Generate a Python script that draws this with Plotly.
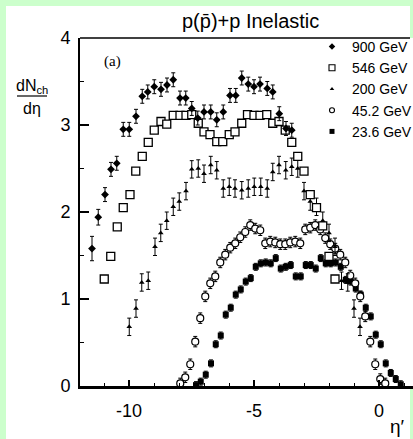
import plotly.graph_objects as go

# ---------------- data ----------------
x_900 = [-11.48, -11.23, -10.96, -10.72, -10.49, -10.23, -9.99, -9.72, -9.47, -9.25,
         -8.99, -8.72, -8.48, -8.23, -7.96, -7.73, -7.49, -7.25, -7.00, -6.73,
         -6.49, -6.23, -5.96, -5.73, -5.49, -5.23, -5.00, -4.76, -4.47, -4.25,
         -3.99, -3.72, -3.49]
y_900 = [1.58, 1.94, 2.20, 2.49, 2.56, 2.95, 2.95, 3.10, 3.33, 3.38,
         3.44, 3.41, 3.46, 3.52, 3.31, 3.31, 3.19, 3.08, 3.15, 3.15,
         3.06, 3.15, 3.34, 3.34, 3.54, 3.47, 3.44, 3.47, 3.42, 3.38,
         3.13, 2.96, 2.94]
e_900 = [0.14, 0.09, 0.08, 0.08, 0.08, 0.08, 0.08, 0.08, 0.08, 0.08,
         0.08, 0.08, 0.08, 0.08, 0.08, 0.08, 0.08, 0.08, 0.08, 0.08,
         0.08, 0.08, 0.08, 0.08, 0.08, 0.08, 0.08, 0.08, 0.08, 0.08,
         0.08, 0.08, 0.08]

x_546 = [-10.99, -10.73, -10.47, -10.23, -9.96, -9.73, -9.47, -9.23, -8.99, -8.72,
         -8.49, -8.23, -7.96, -7.72, -7.49, -7.23, -7.00, -6.76, -6.49, -6.25,
         -5.99, -5.76, -5.49, -5.26, -5.00, -4.76, -4.49, -4.25, -4.00, -3.75,
         -3.49, -3.25, -3.00, -2.75, -2.50, -2.25, -2.00, -1.76]
y_546 = [1.23, 1.49, 1.83, 2.05, 2.20, 2.47, 2.64, 2.80, 2.94, 3.04,
         3.01, 3.11, 3.11, 3.11, 3.12, 3.02, 2.92, 2.89, 2.81, 2.81,
         2.89, 2.92, 3.02, 3.12, 3.11, 3.11, 3.12, 3.02, 3.04, 2.94,
         2.80, 2.64, 2.47, 2.20, 2.05, 1.84, 1.49, 1.23]

x_200 = [-9.99, -9.72, -9.49, -9.23, -8.96, -8.73, -8.49, -8.23, -7.99, -7.72,
         -7.49, -7.23, -7.00, -6.73, -6.49, -6.23, -5.99, -5.76, -5.49, -5.23,
         -4.99, -4.73, -4.47, -4.25, -4.00, -3.73, -3.49, -3.25, -3.00, -2.75,
         -2.50, -2.25, -2.00, -1.76, -1.50, -1.25, -1.00, -0.76]
y_200 = [0.68, 0.89, 1.19, 1.21, 1.60, 1.76, 1.90, 2.06, 2.12, 2.24,
         2.49, 2.50, 2.44, 2.54, 2.48, 2.27, 2.29, 2.27, 2.25, 2.27,
         2.29, 2.29, 2.27, 2.46, 2.54, 2.48, 2.52, 2.50, 2.24, 2.12,
         2.06, 1.90, 1.76, 1.60, 1.21, 1.19, 0.89, 0.68]
e_200 = 0.10

x_452 = [-7.95, -7.75, -7.55, -7.35, -7.15, -6.95, -6.75, -6.55, -6.35, -6.15,
         -5.95, -5.75, -5.55, -5.35, -5.15, -4.95, -4.75, -4.55, -4.35, -4.15,
         -3.95, -3.75, -3.55, -3.35, -3.15, -2.95, -2.75, -2.55, -2.35, -2.15,
         -1.95, -1.75, -1.55, -1.35, -1.15, -0.95, -0.75, -0.55, -0.35, -0.15,
         0.05, 0.25]
y_452 = [0.03, 0.10, 0.25, 0.51, 0.78, 1.03, 1.18, 1.26, 1.42, 1.51,
         1.59, 1.64, 1.71, 1.77, 1.85, 1.81, 1.79, 1.64, 1.66, 1.65,
         1.63, 1.63, 1.65, 1.66, 1.64, 1.80, 1.82, 1.85, 1.80, 1.70,
         1.63, 1.58, 1.51, 1.42, 1.27, 1.18, 1.03, 0.80, 0.51, 0.25,
         0.08, 0.03]
e_452 = 0.06

x_236 = [-7.32, -7.13, -6.93, -6.72, -6.53, -6.33, -6.13, -5.93, -5.73, -5.53,
         -5.33, -5.13, -4.93, -4.73, -4.53, -4.33, -4.13, -3.93, -3.73, -3.53,
         -3.33, -3.13, -2.93, -2.73, -2.53, -2.33, -2.13, -1.93, -1.73, -1.53,
         -1.33, -1.13, -0.93, -0.73, -0.53, -0.33, -0.13, 0.07, 0.27, 0.47,
         0.67, 0.87]
y_236 = [0.01, 0.05, 0.13, 0.26, 0.48, 0.58, 0.82, 0.90, 1.05, 1.11,
         1.20, 1.24, 1.37, 1.41, 1.42, 1.41, 1.47, 1.35, 1.37, 1.39,
         1.26, 1.26, 1.39, 1.39, 1.35, 1.47, 1.41, 1.41, 1.42, 1.37,
         1.22, 1.20, 1.12, 1.05, 0.90, 0.80, 0.59, 0.48, 0.26, 0.15,
         0.08, 0.02]
e_236 = 0.04

labels = ["900 GeV", "546 GeV", "200 GeV", "45.2 GeV", "23.6 GeV"]
x_ticks = [-10, -5, 0]
x_ticktext = ["-10", "-5", "0"]
y_ticks = [0, 1, 2, 3, 4]
y_ticktext = ["0", "1", "2", "3", "4"]

# ---------------- layout geometry ----------------
W, H = 413, 439
L, R, T, B = 80, 0, 38, 53
PW, PH = W - L - R, H - T - B


def pxx(p):
    return (p - L) / PW


def pxy(p):
    return (H - B - p) / PH


FONT = "Liberation Sans"
BLACK = "black"

styles = {
    "900 GeV": dict(symbol="diamond", size=6, color=BLACK, line=dict(width=0)),
    "546 GeV": dict(symbol="square", size=8, color="white", line=dict(width=1.3, color=BLACK)),
    "200 GeV": dict(symbol="triangle-up", size=5, color=BLACK, line=dict(width=0)),
    "45.2 GeV": dict(symbol="circle", size=7, color="white", line=dict(width=1.2, color=BLACK)),
    "23.6 GeV": dict(symbol="square", size=6, color=BLACK, line=dict(width=0)),
}
legend_styles = {
    "900 GeV": dict(symbol="diamond", size=5, color=BLACK, line=dict(width=0)),
    "546 GeV": dict(symbol="square", size=6, color="white", line=dict(width=1.1, color=BLACK)),
    "200 GeV": dict(symbol="triangle-up", size=4, color=BLACK, line=dict(width=0)),
    "45.2 GeV": dict(symbol="circle", size=5, color="white", line=dict(width=1.1, color=BLACK)),
    "23.6 GeV": dict(symbol="square", size=5, color=BLACK, line=dict(width=0)),
}


def err(vals):
    if isinstance(vals, list):
        return dict(type="data", array=vals, visible=True, color=BLACK, thickness=1, width=2)
    return dict(type="constant", value=vals, visible=True, color=BLACK, thickness=1, width=2)


fig = go.Figure()

# data traces (draw order: low energies first)
fig.add_trace(go.Scatter(x=x_236, y=y_236, mode="markers", marker=styles["23.6 GeV"],
                         error_y=err(e_236), showlegend=False))
fig.add_trace(go.Scatter(x=x_452, y=y_452, mode="markers", marker=styles["45.2 GeV"],
                         error_y=err(e_452), showlegend=False))
fig.add_trace(go.Scatter(x=x_200, y=y_200, mode="markers", marker=styles["200 GeV"],
                         error_y=err(e_200), showlegend=False))
fig.add_trace(go.Scatter(x=x_546, y=y_546, mode="markers", marker=styles["546 GeV"],
                         showlegend=False))
fig.add_trace(go.Scatter(x=x_900, y=y_900, mode="markers", marker=styles["900 GeV"],
                         error_y=err(e_900), showlegend=False))

# legend-only entries
for lab in labels:
    fig.add_trace(go.Scatter(x=[None], y=[None], mode="markers", marker=legend_styles[lab],
                             name=lab, showlegend=True))

fig.update_layout(
    width=W, height=H,
    margin=dict(l=L, r=R, t=T, b=B, pad=0, autoexpand=False),
    paper_bgcolor="#ccffcc",
    plot_bgcolor="white",
    font=dict(family=FONT, color=BLACK),
    legend=dict(x=pxx(312), y=pxy(31), xanchor="left", yanchor="top",
                bgcolor="rgba(0,0,0,0)", borderwidth=0,
                font=dict(family=FONT, size=14, color=BLACK),
                itemwidth=30, tracegroupgap=0),
    xaxis=dict(range=[-11.96, 1.36], showgrid=False, zeroline=False,
               showline=True, linewidth=3, linecolor=BLACK,
               ticks="inside", ticklen=6, tickwidth=2, tickcolor=BLACK,
               tickvals=x_ticks, ticktext=x_ticktext,
               tickfont=dict(family=FONT, size=18, color=BLACK),
               ticklabelstandoff=6,
               minor=dict(dtick=1, ticks="inside", ticklen=3, tickwidth=1, tickcolor=BLACK,
                          showgrid=False)),
    yaxis=dict(range=[0, 4], showgrid=False, zeroline=False,
               showline=True, linewidth=2, linecolor=BLACK,
               ticks="inside", ticklen=9, tickwidth=2, tickcolor=BLACK,
               tickvals=y_ticks, ticktext=y_ticktext,
               tickfont=dict(family=FONT, size=18, color=BLACK),
               ticklabelstandoff=4,
               minor=dict(dtick=0.5, ticks="inside", ticklen=4, tickwidth=1, tickcolor=BLACK,
                          showgrid=False)),
)

# white panel on green background, and top frame line
fig.add_shape(type="rect", xref="paper", yref="paper", layer="below",
              x0=pxx(6), x1=pxx(410), y0=pxy(440), y1=pxy(6),
              fillcolor="white", line=dict(width=0))
fig.add_shape(type="line", xref="paper", yref="paper",
              x0=0, x1=pxx(410), y0=1, y1=1, line=dict(color=BLACK, width=1.5))


def label(text, x, y, size, family=FONT):
    fig.add_annotation(text=text, xref="paper", yref="paper", x=pxx(x), y=pxy(y),
                       xanchor="center", yanchor="middle", showarrow=False,
                       font=dict(family=family, size=size, color=BLACK))


# titles / labels
label("p(p\u0304)+p Inelastic", 250, 21, 20)
label("(a)", 112, 61, 15, "Liberation Serif")
label("dN<sub>ch</sub>", 32, 86, 16)
fig.add_shape(type="line", xref="paper", yref="paper", x0=pxx(17), x1=pxx(47),
              y0=pxy(96), y1=pxy(96), line=dict(color=BLACK, width=1.2))
label("d\u03b7", 32, 108, 16)
label("\u03b7\u2032", 397, 426, 19)

fig.write_html("out.html")
